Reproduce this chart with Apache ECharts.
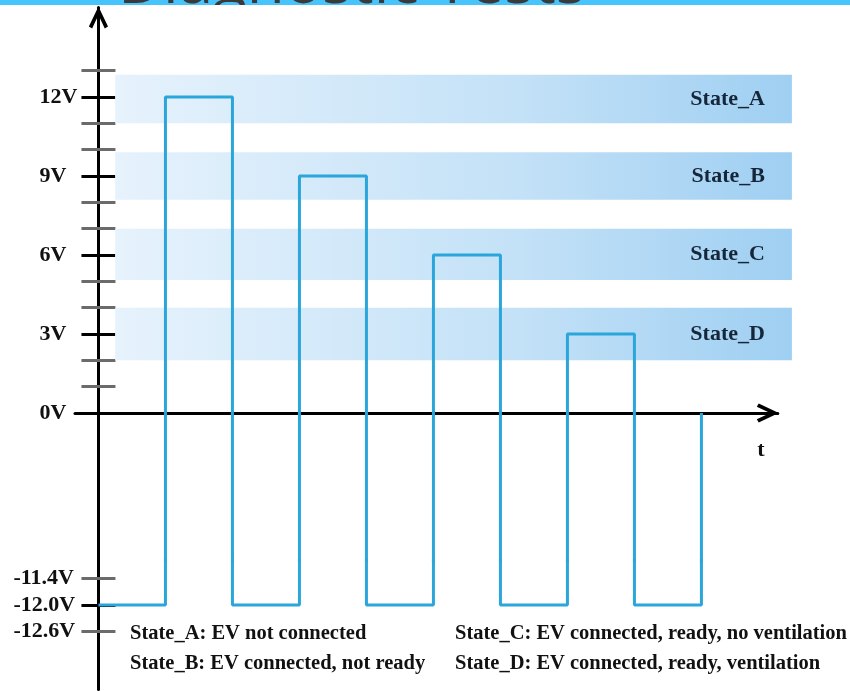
<!DOCTYPE html>
<html>
<head>
<meta charset="utf-8">
<script src="https://cdn.jsdelivr.net/npm/echarts@6/dist/echarts.min.js"></script>
<style>
  html, body { margin: 0; padding: 0; background: #fff; }
  #chart { width: 850px; height: 691px; }
</style>
</head>
<body>
<div id="chart"></div>
<script>
// square wave: time points and voltage levels
const waveT = [0, 1, 1, 2, 2, 3, 3, 4, 4, 5, 5, 6, 6, 7, 7, 8, 8, 9, 9]
const waveV = [-12, -12, 12, 12, -12, -12, 9, 9, -12, -12, 6, 6, -12, -12, 3, 3, -12, -12, 0]

// state bands [low, high] in volts
const stateNames = ['State_A', 'State_B', 'State_C', 'State_D']
const stateLow = [11.0, 8.1, 5.05, 2.0]
const stateHigh = [12.85, 9.9, 7.0, 4.0]
const bandStart = 0.25
const bandEnd = 10.35

// axis ticks
const topMajor = [0, 3, 6, 9, 12]
const topMinor = [1, 2, 4, 5, 7, 8, 10, 11, 13]
const lowLabels = [-11.4, -12.0, -12.6]
const lowMajor = [-12.0]
const lowMinor = [-11.4, -12.6]

const legendLines = [
  'State_A: EV not connected',
  'State_B: EV connected, not ready',
  'State_C: EV connected, ready, no ventilation',
  'State_D: EV connected, ready, ventilation',
]

const serif = '"Liberation Serif", "DejaVu Serif", serif'
// open chevron arrow head
const arrowPath = 'path://M10,0 L20,21 L16.6,23 L10,9 L3.4,23 L0,21 Z'
const arrowSize = [27, 22]
const arrowOffset = [0, -10]
const waveColor = '#2aa6da'

const chart = echarts.init(document.getElementById('chart'))

const X_MIN = -0.35
const X_MAX = 10.14
const TOP_MIN = -5.6
const TOP_MAX = 15.4
const LOW_MIN = -13.9
const LOW_MAX = -11
const Y_OFFSET = -23.45

const tickAxis = (gridIndex, min, max, values, color, inside) => ({
  type: 'value',
  gridIndex,
  min,
  max,
  position: 'left',
  offset: Y_OFFSET,
  axisLine: { show: false },
  splitLine: { show: false },
  axisLabel: { show: false },
  axisTick: {
    show: true,
    inside,
    length: 17,
    customValues: values,
    lineStyle: { color, width: 3 },
  },
})

const mainAxis = (gridIndex, min, max, labels, margin, arrow) => ({
  type: 'value',
  gridIndex,
  min,
  max,
  position: 'left',
  offset: Y_OFFSET,
  axisLine: {
    show: true,
    onZero: false,
    symbol: arrow ? ['none', arrowPath] : 'none',
    symbolSize: arrowSize,
    symbolOffset: arrowOffset,
    lineStyle: { color: '#000', width: 3 },
  },
  splitLine: { show: false },
  axisTick: { show: false },
  axisLabel: {
    show: true,
    customValues: labels,
    align: 'left',
    margin,
    color: '#111',
    fontFamily: serif,
    fontWeight: 'bold',
    fontSize: 22,
    formatter: (v) => (v < 0 ? v.toFixed(1) + 'V' : v + 'V'),
  },
})

const option = {
  backgroundColor: '#fff',
  animation: false,
  grid: [
    { left: 75, top: 7.5, width: 702.8, height: 552.9 },
    { left: 75, top: 560.4, width: 702.8, height: 129 },
    { left: 75, top: 7.5, width: 717, height: 552.9 },
  ],
  xAxis: [
    {
      type: 'value',
      gridIndex: 0,
      min: X_MIN,
      max: X_MAX,
      axisLine: {
        show: true,
        onZero: true,
        symbol: ['none', arrowPath],
        symbolSize: arrowSize,
        symbolOffset: arrowOffset,
        lineStyle: { color: '#000', width: 3 },
      },
      axisTick: { show: false },
      axisLabel: { show: false },
      splitLine: { show: false },
    },
    { type: 'value', gridIndex: 1, min: X_MIN, max: X_MAX, show: false },
    { type: 'value', gridIndex: 2, min: X_MIN, max: X_MIN + 717 / 67, show: false },
  ],
  yAxis: [
    mainAxis(0, TOP_MIN, TOP_MAX, topMajor, 59, true),
    tickAxis(0, TOP_MIN, TOP_MAX, topMajor, '#000', false),
    tickAxis(0, TOP_MIN, TOP_MAX, topMajor, '#000', true),
    tickAxis(0, TOP_MIN, TOP_MAX, topMinor, '#6b6b6b', false),
    tickAxis(0, TOP_MIN, TOP_MAX, topMinor, '#6b6b6b', true),
    mainAxis(1, LOW_MIN, LOW_MAX, lowLabels, 85, false),
    tickAxis(1, LOW_MIN, LOW_MAX, lowMajor, '#000', false),
    tickAxis(1, LOW_MIN, LOW_MAX, lowMajor, '#000', true),
    tickAxis(1, LOW_MIN, LOW_MAX, lowMinor, '#6b6b6b', false),
    tickAxis(1, LOW_MIN, LOW_MAX, lowMinor, '#6b6b6b', true),
    { type: 'value', gridIndex: 2, min: TOP_MIN, max: TOP_MAX, show: false },
  ],
  series: [
    {
      name: 'bands',
      type: 'line',
      xAxisIndex: 2,
      yAxisIndex: 10,
      data: [],
      silent: true,
      markArea: {
        silent: true,
        itemStyle: {
          color: new echarts.graphic.LinearGradient(0, 0, 1, 0, [
            { offset: 0, color: '#e6f2fc' },
            { offset: 0.6, color: '#c3e1f7' },
            { offset: 1, color: '#9fcff2' },
          ]),
        },
        label: {
          show: true,
          position: 'insideRight',
          distance: 27,
          color: '#15263a',
          fontFamily: serif,
          fontWeight: 'bold',
          fontSize: 22,
        },
        data: stateNames.map((name, i) => [
          { name, xAxis: bandStart, yAxis: stateHigh[i] },
          { xAxis: bandEnd, yAxis: stateLow[i] },
        ]),
      },
    },
    {
      name: 'wave-top',
      type: 'line',
      xAxisIndex: 0,
      yAxisIndex: 0,
      clip: true,
      symbol: 'none',
      data: waveT.map((t, i) => [t, waveV[i]]),
      lineStyle: { color: waveColor, width: 3 },
      z: 5,
    },
    {
      name: 'wave-low',
      type: 'line',
      xAxisIndex: 1,
      yAxisIndex: 5,
      clip: true,
      symbol: 'none',
      data: waveT.map((t, i) => [t, waveV[i]]),
      lineStyle: { color: waveColor, width: 3 },
      z: 5,
    },
  ],
  graphic: [
    { type: 'rect', shape: { x: 0, y: 0, width: 850, height: 5 }, style: { fill: '#47c4fb' } },
    {
      type: 'text',
      left: 118,
      top: -46,
      style: { text: 'Diagnostic Tests', fill: '#3a3a3a', font: '62px "Open Sans", sans-serif' },
    },
    { type: 'rect', shape: { x: 110, y: 5, width: 520, height: 22 }, style: { fill: '#fff' } },
    {
      type: 'text',
      x: 761,
      y: 450,
      style: { text: 't', fill: '#111', font: 'bold 22px ' + serif, align: 'center', verticalAlign: 'middle' },
    },
    ...legendLines.map((txt, i) => ({
      type: 'text',
      x: i < 2 ? 130 : 455,
      y: i % 2 === 0 ? 634 : 664,
      style: { text: txt, fill: '#111', font: 'bold 20.5px ' + serif, verticalAlign: 'middle' },
    })),
  ],
}

chart.setOption(option)
</script>
</body>
</html>
